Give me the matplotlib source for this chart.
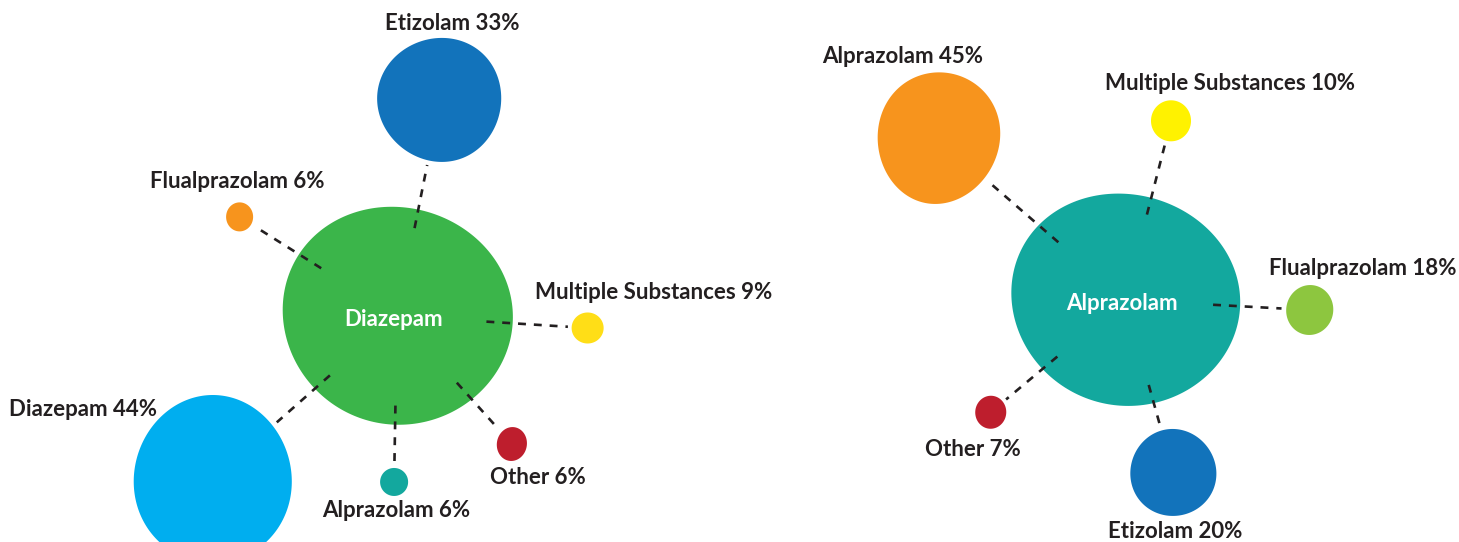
import numpy as np
import matplotlib.pyplot as plt
from matplotlib.patches import Polygon

# -------------------------------
# Data
# -------------------------------
left_hub = "Diazepam"
left_names = ["Etizolam", "Flualprazolam", "Multiple Substances", "Other", "Alprazolam", "Diazepam"]
left_values = [33, 6, 9, 6, 6, 44]
left_colors = ["#1273bb", "#f7941d", "#ffde17", "#be1e2d", "#13a89e", "#00aeef"]

right_hub = "Alprazolam"
right_names = ["Alprazolam", "Multiple Substances", "Flualprazolam", "Etizolam", "Other"]
right_values = [45, 10, 18, 20, 7]
right_colors = ["#f7941d", "#fff200", "#8dc63f", "#1273bb", "#be1e2d"]

# -------------------------------
# Layout (pixels, y pointing down)
# hub: centre x, centre y, width, height, colour
# each satellite: angle (deg), distance, width, height, tilt, egg, label dx, label dy, ha
# -------------------------------
left_hub_box = (397, 316, 231, 217, "#3bb54a")
left_layout = [
    (-78.7, 220, 124, 124, -20, -0.05, 12, -77, "center"),
    (-147.8, 186, 27, 29, 0, 0.0, -2, -35, "center"),
    (3.6, 191, 32, 31, 0, 0.0, 66, -35, "center"),
    (48.1, 172, 30, 34, 10, 0.0, 26, 33, "center"),
    (91.0, 166, 28, 28, 0, 0.0, 2, 29, "center"),
    (138.5, 246, 158, 168, 0, 0.03, -56, -70, "right"),
]

right_hub_box = (1125, 300, 230, 211, "#13a89e")
right_layout = [
    (-139.1, 247, 122, 132, 12, -0.05, -36, -82, "center"),
    (-75.6, 185, 40, 41, 0, 0.0, 59, -37, "center"),
    (3.1, 185, 47, 50, 10, 0.0, 53, -42, "center"),
    (74.4, 179, 86, 87, -10, 0.03, 2, 59, "center"),
    (140.1, 175, 31, 33, 5, 0.0, -18, 37, "center"),
]

TEXT = "#231f20"
FONT = ["Lato", "DejaVu Sans"]


def blob_outline(cx, cy, w, h, tilt=0.0, egg=0.0, n=240):
    """Slightly irregular ellipse, like the hand-drawn blobs."""
    t = np.linspace(0, 2 * np.pi, n)
    x = 0.5 * w * np.cos(t) * (1 + egg * np.sin(t))
    y = 0.5 * h * np.sin(t)
    a = np.radians(tilt)
    xr = x * np.cos(a) - y * np.sin(a)
    yr = x * np.sin(a) + y * np.cos(a)
    return np.column_stack([cx + xr, cy + yr])


def draw_panel(ax, hub_name, hub_box, names, values, colors, layout):
    hx, hy, hw, hh, hcol = hub_box
    hub_r = 0.25 * (hw + hh)
    ax.add_patch(Polygon(blob_outline(hx, hy, hw, hh, 15, -0.03), closed=True,
                         facecolor=hcol, edgecolor="none", zorder=2))
    ax.text(hx - 3, hy + 3, hub_name, color="white", fontsize=16, fontweight="bold",
            family=FONT, ha="center", va="center", zorder=5)

    for name, val, col, lay in zip(names, values, colors, layout):
        ang, dist, w, h, tilt, egg, ldx, ldy, ha = lay
        ux, uy = np.cos(np.radians(ang)), np.sin(np.radians(ang))
        cx, cy = hx + dist * ux, hy + dist * uy
        r = 0.25 * (w + h)
        ax.add_patch(Polygon(blob_outline(cx, cy, w, h, tilt, egg), closed=True,
                             facecolor=col, edgecolor="none", zorder=2))
        s_in = 0.8 * hub_r
        s_out = dist - r - 4
        ax.plot([hx + s_in * ux, hx + s_out * ux], [hy + s_in * uy, hy + s_out * uy],
                color=TEXT, lw=1.9, dashes=(3.0, 3.0), zorder=4, solid_capstyle="butt")
        ax.text(cx + ldx, cy + ldy, f"{name} {val}%", color=TEXT, fontsize=16,
                fontweight="bold", family=FONT, ha=ha, va="center", zorder=5)


fig = plt.figure(figsize=(14.59, 5.42), dpi=100)
ax = fig.add_axes([0, 0, 1, 1])
ax.set_xlim(0, 1459)
ax.set_ylim(542, 0)
ax.axis("off")

draw_panel(ax, left_hub, left_hub_box, left_names, left_values, left_colors, left_layout)
draw_panel(ax, right_hub, right_hub_box, right_names, right_values, right_colors, right_layout)

fig.savefig("out.png", dpi=100, facecolor="white")
